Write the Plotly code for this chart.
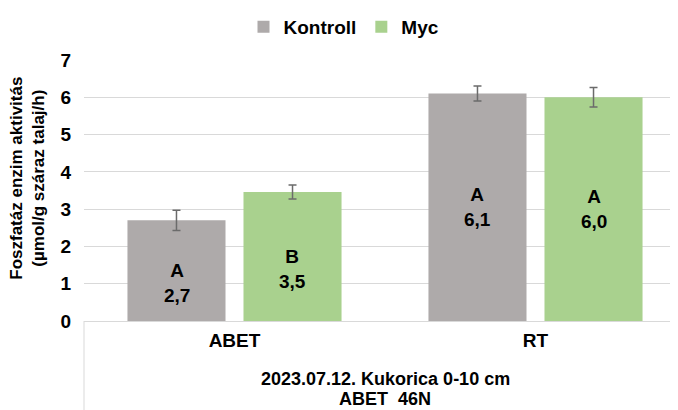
import plotly.graph_objects as go

categories = ["ABET", "RT"]
series_names = ["Kontroll", "Myc"]
kontroll_values = [2.7, 6.1]
myc_values = [3.46, 6.0]
kontroll_err = [0.27, 0.2]
myc_err = [0.19, 0.26]
kontroll_letters = ["A", "A"]
myc_letters = ["B", "A"]
y_ticks = [0, 1, 2, 3, 4, 5, 6, 7]
x_title_lines = ["2023.07.12. Kukorica 0-10 cm", "ABET\u00a0 46N"]
y_title_lines = ["Foszfatáz enzim aktivitás", "(µmol/g száraz talaj/h)"]

FONT = "Liberation Sans, Arial, sans-serif"
GRAY = "#AEAAAA"
GREEN = "#A9D18E"
ERR = "#6B6B6B"
FS = 19

# page body has an 8px margin; work in screen px and convert
OFF = 8
W, H = 678 - OFF, 410 - OFF
PL, PT, PB = 84, 55, 321            # plot-area edges in screen px
ML, MT = PL - OFF, PT - OFF
MB = H - (PB - OFF)
plot_w = W - ML
plot_h = H - MT - MB
cat_px = 301.0
x_hi = -0.5 + plot_w / cat_px

def px_x(sx):
    return (sx - PL) / plot_w

def px_y(sy):
    return (PB - sy) / plot_h

fig = go.Figure()
for name, vals, errs, col in [
    (series_names[0], kontroll_values, kontroll_err, GRAY),
    (series_names[1], myc_values, myc_err, GREEN),
]:
    fig.add_trace(go.Bar(
        name=name, x=categories, y=vals, marker=dict(color=col, line=dict(width=0)),
        error_y=dict(type="data", array=errs, visible=True, color=ERR, thickness=1.5, width=4),
    ))

def fmt(v):
    return f"{v:.1f}".replace(".", ",")

# value / letter labels inside bars
shift = {0: -12, 1: 0}
for si, (vals, letters) in enumerate([(kontroll_values, kontroll_letters), (myc_values, myc_letters)]):
    xs = -58 if si == 0 else 58
    for ci, cat in enumerate(categories):
        fig.add_annotation(
            x=cat, y=vals[ci] / 2, xref="x", yref="y", xshift=xs, yshift=shift[ci],
            text=f"<b>{letters[ci]}</b><br><b>{fmt(vals[ci])}</b>", showarrow=False,
            font=dict(family=FONT, size=FS, color="#000"), align="center",
        )

# bottom title (two lines, tight spacing)
for line, ypx in zip(x_title_lines, [380, 400]):
    fig.add_annotation(
        x=px_x(385), y=px_y(ypx), xref="paper", yref="paper",
        text="<b>" + line + "</b>", showarrow=False, borderpad=0,
        font=dict(family=FONT, size=18, color="#000"), yanchor="middle",
    )
# y title
fig.add_annotation(
    x=px_x(28), y=px_y(176), xref="paper", yref="paper",
    text="<b>" + y_title_lines[0] + "</b><br><b>" + y_title_lines[1] + "</b>",
    showarrow=False, textangle=-90, font=dict(family=FONT, size=17, color="#000"),
    align="center", xanchor="center", yanchor="middle",
)
# category-axis box left line
fig.add_shape(type="line", xref="paper", yref="paper", x0=0, x1=0,
              y0=0, y1=px_y(412), line=dict(color="#D9D9D9", width=1))

fig.update_layout(
    width=W, height=H, margin=dict(l=ML, r=0, t=MT, b=MB),
    paper_bgcolor="white", plot_bgcolor="white",
    barmode="group", bargap=0.229, bargroupgap=0.155,
    font=dict(family=FONT, size=FS, color="#000"),
    showlegend=True,
    legend=dict(orientation="h", x=px_x(344), xanchor="center",
                y=px_y(21), yanchor="middle",
                font=dict(family=FONT, size=FS, color="#000", weight="bold"),
                itemwidth=30, traceorder="normal"),
    xaxis=dict(range=[-0.5, x_hi], showgrid=False, showline=True, linecolor="#D9D9D9",
               linewidth=1, ticks="", tickfont=dict(family=FONT, size=FS, weight="bold"),
               ticklabelstandoff=2, fixedrange=True),
    yaxis=dict(range=[0, 7], tickvals=y_ticks, showgrid=True, gridcolor="#D9D9D9",
               gridwidth=1, zeroline=False, showline=False, ticks="",
               tickfont=dict(family=FONT, size=FS, weight="bold"), ticklabelstandoff=12,
               fixedrange=True),
)

fig.write_html("out.html")
